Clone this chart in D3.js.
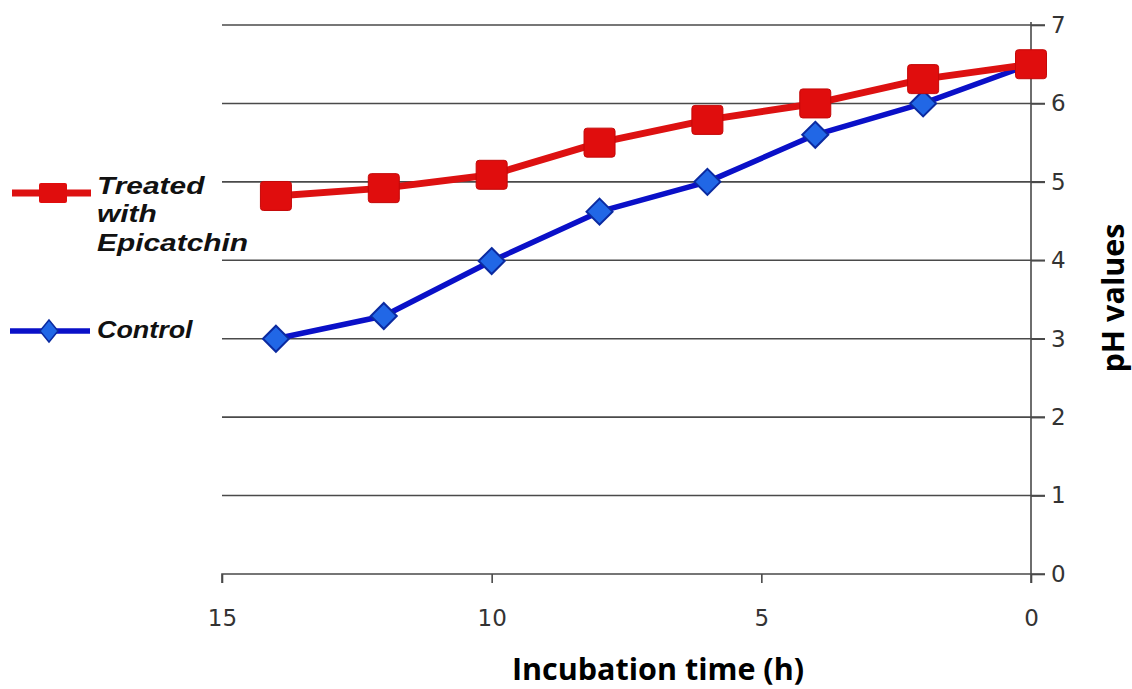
<!DOCTYPE html>
<html><head><meta charset="utf-8">
<script src="https://cdn.jsdelivr.net/npm/d3@7"></script>
<style>body{margin:0;background:#fff}svg{display:block}</style>
</head><body><svg id="c" width="1132" height="689"></svg>
<script>
const hours = [14, 12, 10, 8, 6, 4, 2, 0];
const treated = [4.82, 4.92, 5.09, 5.5, 5.79, 6.0, 6.31, 6.5];
const control = [3.0, 3.29, 3.99, 4.62, 5.0, 5.6, 6.0, 6.5];
const xTicks = [15, 10, 5, 0];
const yTicks = [0, 1, 2, 3, 4, 5, 6, 7];
const xTitle = "Incubation time (h)";
const yTitle = "pH values";
const legendTreated = ["Treated", "with", "Epicatchin"];
const legendControl = "Control";

const svg = d3.select("#c");
const x = d3.scaleLinear().domain([15, 0]).range([222, 1031]);
const y = d3.scaleLinear().domain([0, 7]).range([574, 25]);
const gray = "#4a4a4a";

// gridlines
svg.append("g").selectAll("line").data(yTicks.filter(d => d > 0)).join("line")
  .attr("x1", x(15)).attr("x2", x(0) + 14)
  .attr("y1", d => y(d)).attr("y2", d => y(d))
  .attr("stroke", gray).attr("stroke-width", 1.6);

// x axis
const xa = svg.append("g").attr("transform", `translate(0,${y(0)})`)
  .call(d3.axisBottom(x).tickValues(xTicks).tickSize(9).tickPadding(27).tickFormat(d3.format("d")));
xa.select(".domain").attr("d", `M${x(15)},9V0H${x(0) + 14}`).attr("stroke", gray).attr("stroke-width", 1.6);
xa.selectAll(".tick line").attr("stroke", gray).attr("stroke-width", 1.6);
xa.selectAll(".tick text").attr("font-family", "DejaVu Sans").attr("font-size", 23).attr("fill", "#333");

// y axis (right)
const ya = svg.append("g").attr("transform", `translate(${x(0)},0)`)
  .call(d3.axisRight(y).tickValues(yTicks).tickSize(14).tickPadding(6).tickFormat(d3.format("d")));
ya.select(".domain").attr("d", `M0,${y(7) - 3}V${y(0) + 9}`).attr("stroke", gray).attr("stroke-width", 1.6);
ya.selectAll(".tick line").attr("stroke", gray).attr("stroke-width", 1.6);
ya.selectAll(".tick text").attr("font-family", "DejaVu Sans").attr("font-size", 23).attr("fill", "#333");

// titles
svg.append("text").attr("x", 658).attr("y", 680).attr("text-anchor", "middle")
  .attr("font-family", "Open Sans").attr("font-weight", "bold").attr("font-size", 30.5).attr("fill", "#000")
  .text(xTitle);
svg.append("text").attr("transform", "translate(1124,298) rotate(-90)").attr("text-anchor", "middle")
  .attr("font-family", "Open Sans").attr("font-weight", "bold").attr("font-size", 30.5).attr("fill", "#000")
  .text(yTitle);

// lines
const line = d3.line().x((d, i) => x(hours[i])).y(d => y(d));
const dm = 26;
svg.append("path").datum(control).attr("d", line).attr("fill", "none")
  .attr("stroke", "#0a10c8").attr("stroke-width", 5.5).attr("stroke-linejoin", "round");
svg.append("g").selectAll("path").data(control).join("path")
  .attr("transform", (d, i) => `translate(${x(hours[i])},${y(d)})`)
  .attr("d", `M0,${-dm / 2}L${dm / 2},0L0,${dm / 2}L${-dm / 2},0Z`)
  .attr("fill", "#2167e6").attr("stroke", "#0b2aa0").attr("stroke-width", 2);

svg.append("path").datum(treated).attr("d", line).attr("fill", "none")
  .attr("stroke", "#dd1111").attr("stroke-width", 7).attr("stroke-linejoin", "round");
const sw = 31, sh = 29;
svg.append("g").selectAll("rect").data(treated).join("rect")
  .attr("x", (d, i) => x(hours[i]) - sw / 2).attr("y", d => y(d) - sh / 2)
  .attr("width", sw).attr("height", sh).attr("rx", 3)
  .attr("fill", "#e00d0d").attr("stroke", "#c40808").attr("stroke-width", 1);

// legend
const lg = svg.append("g");
lg.append("line").attr("x1", 12).attr("x2", 91).attr("y1", 193).attr("y2", 193)
  .attr("stroke", "#dd1111").attr("stroke-width", 7);
lg.append("rect").attr("x", 39).attr("y", 183).attr("width", 28).attr("height", 20).attr("rx", 2)
  .attr("fill", "#e00d0d");
const lt = lg.append("g").attr("transform", "translate(97,0) scale(1.3,1)");
legendTreated.forEach((t, i) => {
  lt.append("text").attr("x", 0).attr("y", 194 + i * 28.5)
    .attr("font-family", "Liberation Sans").attr("font-weight", "bold").attr("font-style", "italic")
    .attr("font-size", 23).attr("fill", "#111").text(t);
});
lg.append("line").attr("x1", 10).attr("x2", 90).attr("y1", 331).attr("y2", 331)
  .attr("stroke", "#0a10c8").attr("stroke-width", 5.5);
lg.append("path").attr("transform", "translate(49,331)")
  .attr("d", `M0,-11L9,0L0,11L-9,0Z`).attr("fill", "#2167e6").attr("stroke", "#0b2aa0").attr("stroke-width", 1.5);
lg.append("g").attr("transform", "translate(97,0) scale(1.17,1)")
  .append("text").attr("x", 0).attr("y", 338)
  .attr("font-family", "Liberation Sans").attr("font-weight", "bold").attr("font-style", "italic")
  .attr("font-size", 23).attr("fill", "#111").text(legendControl);
</script></body></html>
